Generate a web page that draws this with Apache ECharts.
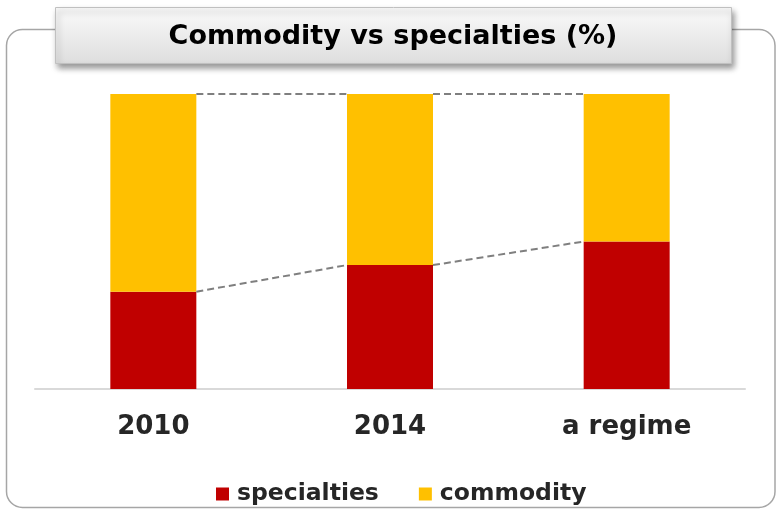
<!DOCTYPE html>
<html>
<head>
<meta charset="utf-8">
<script src="https://cdn.jsdelivr.net/npm/echarts@6/dist/echarts.min.js"></script>
<style>
  html, body { margin: 0; padding: 0; background: #fff; }
  #chart { width: 776px; height: 509px; }
</style>
</head>
<body>
<div id="chart"></div>
<script>
// 数据
var categories = ['2010', '2014', 'a regime'];
var specialties = [33, 42, 50];
var commodity = [67, 58, 50];

var chart = echarts.init(document.getElementById('chart'));
var BAR_W = 86;
var FONT = '"DejaVu Sans", Verdana, sans-serif';

// 虚线连接: 每段 [起点类目, 起点值, 终点值]
function links(vals) {
  var out = [];
  for (var i = 0; i < vals.length - 1; i++) out.push([i, vals[i], vals[i + 1]]);
  return out;
}
var totals = specialties.map(function (v, i) { return v + commodity[i]; });

function renderLink(params, api) {
  var i = api.value(0);
  var p0 = api.coord([i, api.value(1)]);
  var p1 = api.coord([i + 1, api.value(2)]);
  return {
    type: 'line',
    shape: { x1: p0[0] + BAR_W / 2, y1: p0[1], x2: p1[0] - BAR_W / 2, y2: p1[1] },
    style: { stroke: '#7f7f7f', lineWidth: 2, lineDash: [7, 4] }
  };
}

var option = {
  animation: false,
  grid: { left: 35, right: 31, top: 94, bottom: 120 },
  graphic: [
    {
      type: 'rect', z: 0,
      shape: { x: 6.5, y: 29.5, width: 768.5, height: 478, r: 16 },
      style: { fill: 'none', stroke: '#a6a6a6', lineWidth: 1.5 }
    },
    {
      type: 'rect', z: 10,
      shape: { x: 55.5, y: 7.5, width: 676, height: 56 },
      style: {
        fill: new echarts.graphic.LinearGradient(0, 0, 0, 1, [
          { offset: 0, color: '#fafafa' },
          { offset: 1, color: '#dedede' }
        ]),
        stroke: '#c0c0c0', lineWidth: 1,
        shadowColor: 'rgba(0,0,0,0.4)', shadowBlur: 6, shadowOffsetX: 2, shadowOffsetY: 4
      }
    },
    {
      type: 'text', z: 11,
      x: 393, y: 37,
      style: {
        text: 'Commodity vs specialties (%)',
        font: 'bold 27px ' + FONT,
        fill: '#000', align: 'center', verticalAlign: 'middle'
      }
    }
  ],
  legend: {
    data: ['specialties', 'commodity'],
    left: 211, top: 477,
    icon: 'rect', itemWidth: 13, itemHeight: 13, itemGap: 40,
    textStyle: { fontFamily: FONT, fontWeight: 'bold', fontSize: 23.5, color: '#262626', padding: [0, 0, 0, 3] }
  },
  xAxis: {
    type: 'category',
    data: categories,
    axisLine: { lineStyle: { color: '#d9d9d9', width: 2 } },
    axisTick: { show: false },
    axisLabel: { fontFamily: FONT, fontWeight: 'bold', fontSize: 26, color: '#262626', margin: 25 }
  },
  yAxis: { type: 'value', min: 0, max: 100, show: false, splitLine: { show: false } },
  series: [
    {
      name: 'specialties', type: 'bar', stack: 'total', barWidth: BAR_W,
      itemStyle: { color: '#c00000' }, data: specialties
    },
    {
      name: 'commodity', type: 'bar', stack: 'total', barWidth: BAR_W,
      itemStyle: { color: '#ffc000' }, data: commodity
    },
    {
      type: 'custom', renderItem: renderLink, z: 5, silent: true,
      encode: { x: 0, y: 1 }, data: links(specialties)
    },
    {
      type: 'custom', renderItem: renderLink, z: 5, silent: true,
      encode: { x: 0, y: 1 }, data: links(totals)
    }
  ]
};
chart.setOption(option);
</script>
</body>
</html>
